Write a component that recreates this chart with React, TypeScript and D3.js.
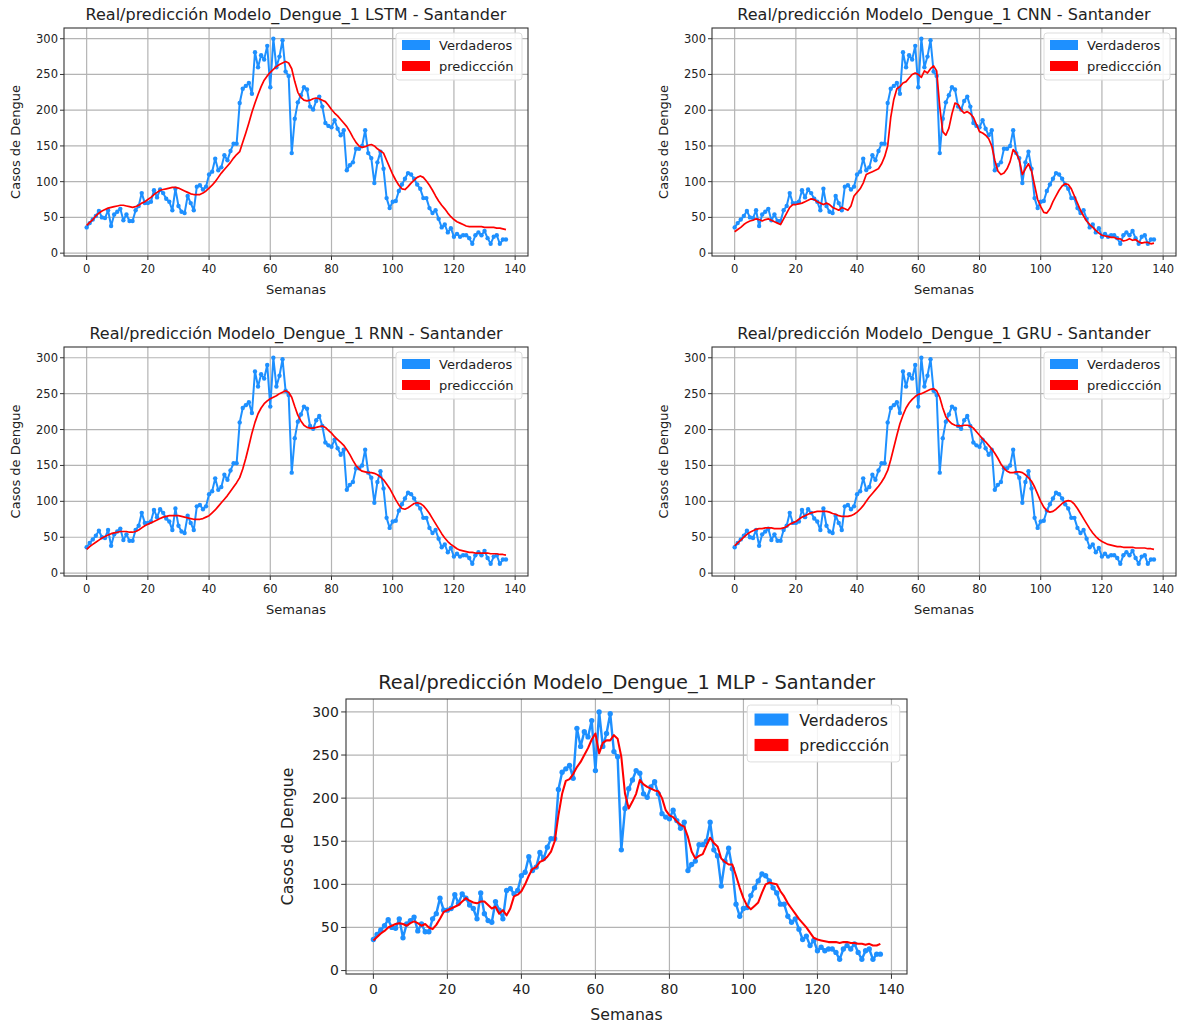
import React from "react";
import * as d3 from "d3";

const weeks: number[] = d3.range(0, 138);

const verdaderos: number[] = [
  36, 42, 47, 52, 59, 50, 49, 60, 38, 54, 58, 62, 46, 54, 45, 45, 60, 66, 84, 70,
  70, 72, 88, 78, 89, 84, 76, 72, 60, 90, 66, 58, 56, 80, 70, 60, 93, 95, 89, 93,
  110, 114, 132, 116, 120, 137, 130, 143, 153, 153, 210, 230, 234, 238, 223, 281, 260, 277, 271, 290,
  232, 300, 260, 275, 298, 254, 248, 140, 188, 211, 221, 232, 229, 205, 201, 213, 219, 205, 182, 178,
  176, 186, 174, 165, 172, 116, 123, 127, 146, 146, 150, 172, 140, 133, 98, 127, 142, 118, 77, 63,
  72, 73, 87, 96, 104, 112, 110, 104, 96, 90, 77, 77, 63, 56, 60, 48, 36, 40, 29, 35,
  23, 27, 23, 25, 25, 21, 13, 25, 29, 25, 31, 21, 13, 23, 25, 13, 19, 19,
];

const predLSTM: number[] = [
  39, 43, 47, 52, 56, 59, 61, 63, 64, 65, 66, 67, 67, 66, 65, 64, 65, 67, 70, 72,
  75, 78, 82, 85, 88, 89, 90, 91, 92, 92, 91, 89, 87, 85, 83, 82, 82, 82, 84, 87,
  91, 95, 100, 106, 112, 117, 122, 127, 133, 138, 142, 155, 168, 182, 197, 210, 222, 233, 242, 248,
  253, 257, 261, 264, 266, 268, 266, 258, 240, 225, 218, 214, 213, 214, 216, 217, 216, 214, 212, 207,
  201, 196, 192, 187, 182, 177, 170, 162, 155, 150, 148, 149, 151, 152, 150, 146, 143, 140, 130, 120,
  110, 102, 95, 90, 89, 93, 98, 102, 106, 108, 106, 101, 95, 88, 80, 73, 67, 62, 56, 51,
  47, 44, 42, 40, 38, 37, 37, 37, 37, 37, 36, 36, 36, 36, 35, 35, 34, 33,
];

const predCNN: number[] = [
  30, 33, 36, 40, 43, 45, 46, 48, 47, 45, 47, 48, 46, 44, 42, 40, 48, 56, 64, 68,
  68, 69, 70, 72, 74, 76, 75, 72, 70, 68, 70, 68, 64, 62, 60, 64, 62, 60, 66, 80,
  85, 90, 98, 110, 112, 114, 116, 118, 125, 135, 150, 190, 215, 230, 233, 238, 240, 245, 250, 252,
  250, 246, 255, 252, 258, 262, 255, 205, 170, 165, 175, 195, 210, 208, 200, 196, 198, 195, 190, 180,
  170, 168, 165, 160, 150, 130, 115, 110, 112, 118, 128, 145, 140, 130, 110, 118, 125, 115, 95, 75,
  65, 57, 56, 62, 72, 80, 88, 94, 97, 96, 90, 80, 70, 60, 52, 45, 40, 36, 32, 28,
  25, 24, 23, 22, 22, 20, 20, 17, 18, 20, 18, 19, 16, 14, 15, 15, 13, 14,
];

const predRNN: number[] = [
  33, 37, 40, 43, 46, 49, 51, 53, 55, 56, 57, 58, 58, 58, 57, 57, 58, 60, 63, 66,
  68, 70, 72, 74, 76, 78, 79, 80, 80, 80, 80, 79, 78, 77, 76, 75, 75, 75, 76, 78,
  80, 84, 88, 93, 98, 103, 108, 114, 120, 126, 133, 145, 160, 177, 195, 210, 222, 230, 236, 240,
  243, 245, 247, 250, 252, 254, 252, 245, 232, 220, 212, 206, 203, 202, 202, 203, 204, 205, 203, 199,
  195, 190, 186, 182, 178, 172, 165, 157, 150, 145, 142, 141, 140, 140, 139, 137, 134, 130, 124, 118,
  110, 102, 95, 90, 89, 91, 94, 97, 98, 97, 94, 89, 83, 76, 69, 62, 55, 49, 44, 40,
  37, 34, 32, 31, 30, 29, 29, 28, 28, 28, 28, 28, 27, 27, 27, 26, 26, 25,
];

const predGRU: number[] = [
  38, 42, 46, 50, 54, 57, 59, 61, 62, 62, 63, 63, 63, 62, 62, 62, 63, 65, 68, 70,
  72, 75, 78, 80, 82, 84, 85, 86, 86, 86, 86, 85, 83, 82, 80, 79, 79, 79, 80, 82,
  85, 89, 94, 100, 106, 111, 116, 121, 127, 134, 143, 158, 175, 192, 208, 220, 230, 237, 242, 246,
  249, 250, 252, 254, 256, 257, 254, 245, 230, 218, 212, 208, 206, 205, 205, 206, 206, 205, 202, 197,
  192, 187, 183, 178, 173, 167, 160, 152, 146, 142, 140, 140, 141, 141, 140, 137, 133, 128, 120, 110,
  100, 92, 87, 85, 86, 89, 93, 97, 100, 101, 100, 96, 90, 83, 76, 69, 62, 56, 51, 47,
  44, 42, 40, 39, 38, 37, 37, 36, 36, 36, 36, 35, 35, 35, 35, 34, 34, 33,
];

const predMLP: number[] = [
  35, 39, 43, 46, 50, 52, 54, 55, 54, 52, 55, 57, 55, 52, 54, 50, 48, 53, 60, 68,
  70, 72, 74, 76, 80, 84, 81, 79, 78, 80, 80, 76, 72, 74, 66, 70, 64, 72, 86, 88,
  92, 100, 110, 118, 120, 126, 128, 132, 138, 150, 180, 205, 220, 222, 228, 236, 242, 250, 258, 268,
  275, 252, 264, 267, 267, 273, 269, 248, 205, 188, 196, 205, 221, 216, 213, 211, 209, 208, 200, 186,
  180, 178, 173, 169, 167, 155, 138, 130, 133, 135, 145, 154, 148, 144, 130, 126, 123, 123, 110, 96,
  84, 75, 71, 75, 79, 90, 100, 102, 101, 100, 92, 86, 78, 72, 66, 60, 55, 50, 44, 38,
  36, 35, 34, 33, 33, 33, 32, 33, 33, 32, 32, 31, 31, 30, 31, 29, 29, 31,
];

const xTicks: number[] = [0, 20, 40, 60, 80, 100, 120, 140];
const yTicks: number[] = [0, 50, 100, 150, 200, 250, 300];
const legendLabels: string[] = ["Verdaderos", "prediccción"];

const BLUE = "#1E90FF";
const RED = "#FF0000";
const FONT = "DejaVu Sans, Verdana, sans-serif";

type PanelProps = {
  title: string;
  pred: number[];
  left: number;
  right: number;
  top: number;
  bottom: number;
  s: number;
};

function Panel({ title, pred, left, right, top, bottom, s }: PanelProps) {
  const x = d3.scaleLinear().domain([-7.4, 144.2]).range([left, right]);
  const y = d3.scaleLinear().domain([-4, 315]).range([bottom, top]);
  const line = d3
    .line<number>()
    .x((_, i) => x(weeks[i]))
    .y((d) => y(d));
  const cx = (left + right) / 2;
  const cy = (top + bottom) / 2;
  const tickFs = 11.5 * s;
  const lgW = 126 * s;
  const lgH = 47 * s;
  const lgX = right - 6 * s - lgW;
  const lgY = top + 5 * s;
  return (
    <g>
      <text x={cx} y={top - 8 * s} textAnchor="middle" fontSize={16 * s} fill="#222" fontFamily={FONT}>
        {title}
      </text>
      <rect x={left} y={top} width={right - left} height={bottom - top} fill="#fff" />
      {xTicks.map((t) => (
        <line key={"gx" + t} x1={x(t)} x2={x(t)} y1={top} y2={bottom} stroke="#b4b4b4" strokeWidth={1.2} />
      ))}
      {yTicks.map((t) => (
        <line key={"gy" + t} x1={left} x2={right} y1={y(t)} y2={y(t)} stroke="#b4b4b4" strokeWidth={1.2} />
      ))}
      <path d={line(verdaderos) || ""} fill="none" stroke={BLUE} strokeWidth={2 * s} strokeLinejoin="round" />
      {verdaderos.map((v, i) => (
        <circle key={"p" + i} cx={x(weeks[i])} cy={y(v)} r={2.2 * s} fill={BLUE} />
      ))}
      <path d={line(pred) || ""} fill="none" stroke={RED} strokeWidth={1.7 * s} strokeLinejoin="round" />
      <rect x={left} y={top} width={right - left} height={bottom - top} fill="none" stroke="#333" strokeWidth={1.1} />
      {xTicks.map((t) => (
        <g key={"tx" + t}>
          <line x1={x(t)} x2={x(t)} y1={bottom} y2={bottom + 4 * s} stroke="#333" strokeWidth={1} />
          <text x={x(t)} y={bottom + 16.5 * s} textAnchor="middle" fontSize={tickFs} fill="#222" fontFamily={FONT}>
            {t}
          </text>
        </g>
      ))}
      {yTicks.map((t) => (
        <g key={"ty" + t}>
          <line x1={left - 4 * s} x2={left} y1={y(t)} y2={y(t)} stroke="#333" strokeWidth={1} />
          <text x={left - 6 * s} y={y(t) + 4 * s} textAnchor="end" fontSize={tickFs} fill="#222" fontFamily={FONT}>
            {t}
          </text>
        </g>
      ))}
      <text x={cx} y={bottom + 38 * s} textAnchor="middle" fontSize={13 * s} fill="#222" fontFamily={FONT}>
        Semanas
      </text>
      <text
        transform={`translate(${left - 44 * s},${cy}) rotate(-90)`}
        textAnchor="middle"
        fontSize={13 * s}
        fill="#222"
        fontFamily={FONT}
      >
        Casos de Dengue
      </text>
      <rect x={lgX} y={lgY} width={lgW} height={lgH} rx={3} fill="#fff" fillOpacity={0.85} stroke="#ddd" />
      {legendLabels.map((lab, i) => (
        <g key={lab}>
          <rect
            x={lgX + 6 * s}
            y={lgY + 7 * s + i * 21 * s}
            width={28 * s}
            height={10 * s}
            fill={i === 0 ? BLUE : RED}
          />
          <text x={lgX + 43 * s} y={lgY + 17 * s + i * 21 * s} fontSize={13 * s} fill="#222" fontFamily={FONT}>
            {lab}
          </text>
        </g>
      ))}
    </g>
  );
}

export default function App() {
  return (
    <svg width={1182} height={1028} style={{ position: "absolute", left: 0, top: 0, background: "#fff" }}>
      <rect x={0} y={0} width={1182} height={1028} fill="#fff" />
      <Panel title="Real/predicción Modelo_Dengue_1 LSTM - Santander" pred={predLSTM} left={64} right={528} top={28} bottom={256} s={1} />
      <Panel title="Real/predicción Modelo_Dengue_1 CNN - Santander" pred={predCNN} left={712} right={1176} top={28} bottom={256} s={1} />
      <Panel title="Real/predicción Modelo_Dengue_1 RNN - Santander" pred={predRNN} left={64} right={528} top={347} bottom={576} s={1} />
      <Panel title="Real/predicción Modelo_Dengue_1 GRU - Santander" pred={predGRU} left={712} right={1176} top={347} bottom={576} s={1} />
      <Panel title="Real/predicción Modelo_Dengue_1 MLP - Santander" pred={predMLP} left={346} right={907} top={699} bottom={974} s={1.21} />
    </svg>
  );
}
